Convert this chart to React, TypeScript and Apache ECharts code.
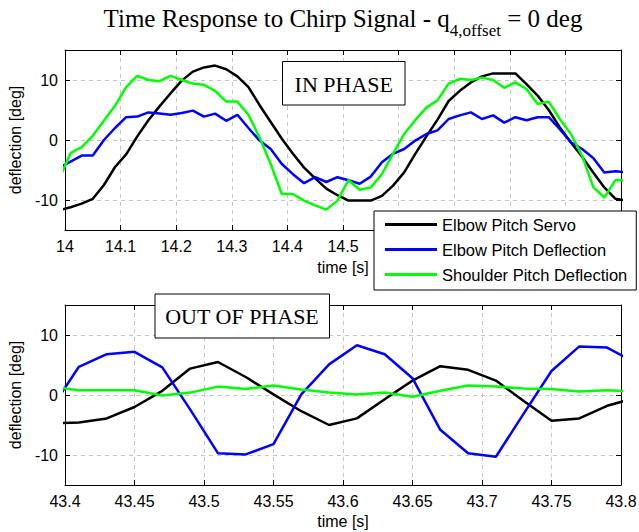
import React, { useEffect, useRef } from 'react';
import * as echarts from 'echarts';

// ---------- data ----------
const timeTop = [
  13.99, 14.01, 14.03, 14.05, 14.07, 14.09, 14.11, 14.13, 14.15, 14.17, 14.19, 14.21, 14.23,
  14.25, 14.27, 14.29, 14.31, 14.33, 14.35, 14.37, 14.39, 14.41, 14.43, 14.45, 14.47, 14.49,
  14.51, 14.53, 14.55, 14.57, 14.59, 14.61, 14.63, 14.65, 14.67, 14.69, 14.71, 14.73, 14.75,
  14.77, 14.79, 14.81, 14.83, 14.85, 14.87, 14.89, 14.91, 14.93, 14.95, 14.97, 14.99, 15.01,
];
const servoTop = [
  -11.7, -11.2, -10.6, -9.8, -7.5, -4.5, -2.4, 0.6, 3.3, 5.6, 7.8, 9.9, 11.4,
  12.1, 12.4, 11.8, 10.6, 8.8, 5.8, 3.0, 0.2, -2.3, -4.6, -6.4, -8.1, -9.2,
  -10.1, -10.1, -10.1, -9.3, -7.6, -5.4, -2.3, 0.6, 3.4, 6.5, 8.2, 9.6, 10.6,
  11.1, 11.1, 11.1, 9.3, 7.4, 5.0, 2.1, -0.4, -2.8, -5.4, -7.9, -9.8, -10.1,
];
const elbowTop = [
  -4.6, -3.6, -2.6, -2.6, 0.0, 2.0, 3.8, 3.9, 4.6, 4.4, 4.2, 4.5, 4.9,
  3.9, 4.4, 3.2, 4.2, 2.0, -0.1, -1.5, -4.0, -5.7, -7.2, -6.2, -7.0, -6.2,
  -6.7, -7.3, -6.1, -3.7, -2.3, -1.5, -0.1, 1.0, 1.6, 3.5, 4.1, 4.6, 3.5,
  4.1, 2.9, 3.8, 3.3, 3.8, 3.8, 1.8, -0.4, -1.5, -3.0, -5.4, -5.2, -5.4,
];
const shoulderTop = [
  -6.4, -2.2, -1.2, 0.7, 3.2, 5.7, 8.8, 10.7, 10.0, 9.8, 10.7, 10.0, 9.4,
  9.2, 8.2, 6.4, 6.4, 4.2, 0.4, -4.0, -9.0, -9.0, -10.1, -10.9, -11.6, -10.1,
  -6.7, -8.3, -7.9, -5.7, -2.3, 1.0, 3.3, 5.4, 6.6, 9.4, 10.2, 10.0, 10.4,
  10.0, 8.7, 9.6, 8.5, 6.0, 6.4, 3.5, 1.0, -2.6, -7.8, -9.6, -6.7, -6.7,
];

const timeBottom = [
  43.39, 43.41, 43.43, 43.45, 43.47, 43.49, 43.51, 43.53, 43.55, 43.57, 43.59,
  43.61, 43.63, 43.65, 43.67, 43.69, 43.71, 43.73, 43.75, 43.77, 43.79, 43.81,
];
const servoBottom = [
  -4.7, -4.6, -3.9, -2.0, 0.7, 4.4, 5.5, 3.0, 0.1, -2.7, -5.0,
  -3.9, -0.7, 2.4, 4.8, 4.2, 2.4, -1.0, -4.3, -3.9, -1.8, -0.5,
];
const elbowBottom = [
  -2.3, 4.7, 6.8, 7.2, 4.6, -2.4, -9.7, -9.9, -8.2, 0.1, 5.1,
  8.3, 6.8, 2.8, -5.8, -9.7, -10.3, -3.1, 4.0, 8.1, 7.9, 5.4,
];
const shoulderBottom = [
  1.4, 0.8, 0.8, 0.8, -0.1, 0.4, 1.4, 1.0, 1.6, 0.9, 0.4,
  0.1, 0.4, -0.3, 0.7, 1.6, 1.4, 1.1, 1.0, 0.6, 0.8, 0.6,
];

const seriesNames = ['Elbow Pitch Servo', 'Elbow Pitch Deflection', 'Shoulder Pitch Deflection'];
const seriesColors = ['#000000', '#0000ff', '#00ff00'];
const yTicks = [-10, 0, 10];
// x tick labels of the upper plot that are not hidden behind the legend
const xLabelsTop = [14, 14.1, 14.2, 14.3, 14.4, 14.5];
const titleMain = 'Time Response to Chirp Signal - q';
const titleSub = '4,offset';
const titleTail = '= 0 deg';
const labelTop = 'IN PHASE';
const labelBottom = 'OUT OF PHASE';
const xName = 'time [s]';
const yName = 'deflection [deg]';

// ---------- helpers ----------
const SANS = 'Liberation Sans';
const SERIF = 'Liberation Serif';

function measure(text: string, font: string): number {
  const c = document.createElement('canvas').getContext('2d');
  if (!c) return text.length * 10;
  c.font = font;
  return c.measureText(text).width;
}

const gridLine = { show: true, lineStyle: { color: '#c4c4c4', type: [4, 4] as any, width: 1 } };
const blackLine = { show: true, onZero: false, lineStyle: { color: '#000', width: 1 } };
const tick = { show: true, inside: true, length: 5, lineStyle: { color: '#000', width: 1 } };
const labelStyle = { color: '#000', fontFamily: SANS, fontSize: 16 };

function xAxes(grid: number, min: number, max: number, interval: number, nameGap: number, labels?: number[]) {
  const axisLabel: any = { ...labelStyle, margin: 8 };
  if (labels) axisLabel.customValues = labels;
  return [
    {
      type: 'value', gridIndex: grid, position: 'bottom', min, max, interval,
      axisLine: blackLine, axisTick: tick,
      axisLabel,
      splitLine: gridLine,
      name: xName, nameLocation: 'middle', nameGap,
      nameTextStyle: { color: '#000', fontFamily: SANS, fontSize: 16 },
    },
    {
      type: 'value', gridIndex: grid, position: 'top', min, max, interval,
      axisLine: blackLine, axisTick: tick, axisLabel: { show: false }, splitLine: { show: false },
    },
  ];
}

function yAxes(grid: number) {
  return [
    {
      type: 'value', gridIndex: grid, position: 'left', min: -15, max: 15,
      axisLine: blackLine, axisTick: { ...tick, customValues: yTicks },
      axisLabel: { ...labelStyle, margin: 7, customValues: yTicks },
      splitLine: gridLine,
      name: yName, nameLocation: 'middle', nameGap: 38, nameRotate: 90,
      nameTextStyle: { color: '#000', fontFamily: SANS, fontSize: 16 },
    },
    {
      type: 'value', gridIndex: grid, position: 'right', min: -15, max: 15,
      axisLine: blackLine, axisTick: { ...tick, customValues: yTicks },
      axisLabel: { show: false, customValues: yTicks }, splitLine: { show: false },
    },
  ];
}

function makeSeries(times: number[], vals: number[][], xIdx: number, yIdx: number) {
  return vals.map((v, k) => ({
    type: 'line',
    name: seriesNames[k],
    xAxisIndex: xIdx,
    yAxisIndex: yIdx,
    data: times.map((t, i) => [t, v[i]]),
    showSymbol: false,
    symbol: 'none',
    color: seriesColors[k],
    lineStyle: { color: seriesColors[k], width: 2.5 },
    itemStyle: { color: seriesColors[k] },
    clip: true,
    z: 2 + k,
  }));
}

export default function App() {
  const ref = useRef<HTMLDivElement>(null);

  useEffect(() => {
    if (!ref.current) return;
    const chart = echarts.init(ref.current, null, { renderer: 'svg' });

    const fMain = `25px "${SERIF}"`;
    const fSub = `17px "${SERIF}"`;
    const wMain = measure(titleMain, fMain);
    const wSub = measure(titleSub, fSub);
    const wSpace = measure(' ', fMain);
    const wTail = measure(titleTail, fMain);
    const total = wMain + wSub + wSpace + wTail;
    const x0 = 343 - total / 2;

    const option: any = {
      animation: false,
      backgroundColor: '#fff',
      grid: [
        { left: 65, top: 50, width: 556, height: 180, containLabel: false, outerBoundsMode: 'none' },
        { left: 65, top: 305, width: 556, height: 180, containLabel: false, outerBoundsMode: 'none' },
      ],
      xAxis: [...xAxes(0, 14, 15, 0.1, 29, xLabelsTop), ...xAxes(1, 43.4, 43.8, 0.05, 28)],
      yAxis: [...yAxes(0), ...yAxes(1)],
      legend: {
        show: true,
        orient: 'vertical',
        left: 374,
        top: 211,
        itemWidth: 52,
        itemHeight: 3,
        itemGap: 8,
        icon: 'rect',
        padding: [5, 9, 7, 11],
        backgroundColor: '#fff',
        borderColor: '#000',
        borderWidth: 1,
        borderRadius: 0,
        selectedMode: false,
        textStyle: { color: '#000', fontFamily: SANS, fontSize: 16.5 },
        data: seriesNames,
        z: 10,
      },
      series: [
        ...makeSeries(timeTop, [servoTop, elbowTop, shoulderTop], 0, 0),
        ...makeSeries(timeBottom, [servoBottom, elbowBottom, shoulderBottom], 2, 2),
      ],
      graphic: [
        {
          type: 'text', x: x0, y: 18, z: 100,
          style: { text: titleMain, font: fMain, fill: '#000', align: 'left', verticalAlign: 'middle' },
        },
        {
          type: 'text', x: x0 + wMain, y: 30, z: 100,
          style: { text: titleSub, font: fSub, fill: '#000', align: 'left', verticalAlign: 'middle' },
        },
        {
          type: 'text', x: x0 + wMain + wSub + wSpace, y: 18, z: 100,
          style: { text: titleTail, font: fMain, fill: '#000', align: 'left', verticalAlign: 'middle' },
        },
        {
          type: 'rect', z: 100,
          shape: { x: 282.5, y: 61.5, width: 122.5, height: 43.5 },
          style: { fill: '#fff', stroke: '#000', lineWidth: 1 },
        },
        {
          type: 'text', x: 343.8, y: 84, z: 101,
          style: { text: labelTop, font: `22px "${SERIF}"`, fill: '#000', align: 'center', verticalAlign: 'middle' },
        },
        {
          type: 'rect', z: 100,
          shape: { x: 155, y: 294, width: 174.5, height: 44 },
          style: { fill: '#fff', stroke: '#000', lineWidth: 1 },
        },
        {
          type: 'text', x: 242, y: 316.5, z: 101,
          style: { text: labelBottom, font: `22px "${SERIF}"`, fill: '#000', align: 'center', verticalAlign: 'middle' },
        },
      ],
    };

    chart.setOption(option);
    return () => chart.dispose();
  }, []);

  return (
    <div
      ref={ref}
      style={{ position: 'fixed', left: 0, top: 0, width: 639, height: 532, background: '#fff' }}
    />
  );
}
